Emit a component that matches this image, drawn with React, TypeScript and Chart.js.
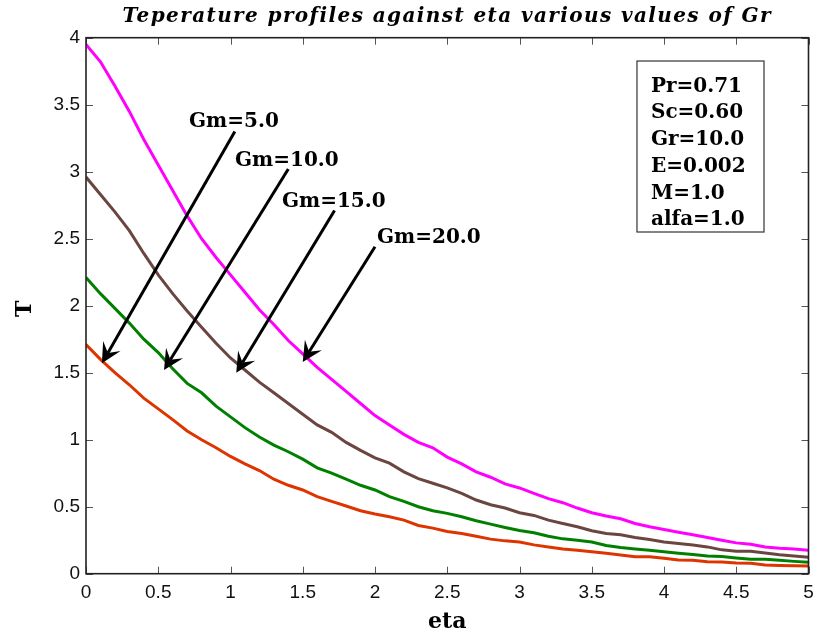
import React, { useEffect, useRef } from "react";
import { Chart, registerables } from "chart.js";

Chart.register(...registerables);

// ---- data ----
const eta = [
  0, 0.1, 0.2, 0.3, 0.4, 0.5, 0.6, 0.7, 0.8, 0.9, 1.0, 1.1, 1.2, 1.3, 1.4, 1.5, 1.6, 1.7, 1.8, 1.9, 2.0,
  2.1, 2.2, 2.3, 2.4, 2.5, 2.6, 2.7, 2.8, 2.9, 3.0, 3.1, 3.2, 3.3, 3.4, 3.5, 3.6, 3.7, 3.8, 3.9, 4.0,
  4.1, 4.2, 4.3, 4.4, 4.5, 4.6, 4.7, 4.8, 4.9, 5.0,
];

const tGm20 = [
  3.95, 3.82, 3.64, 3.45, 3.24, 3.05, 2.86, 2.67, 2.5, 2.36, 2.23, 2.1, 1.97, 1.86, 1.74, 1.64, 1.54, 1.45,
  1.36, 1.27, 1.18, 1.11, 1.04, 0.98, 0.94, 0.87, 0.82, 0.76, 0.72, 0.67, 0.64, 0.6, 0.56, 0.53, 0.49, 0.455,
  0.43, 0.41, 0.375, 0.35, 0.33, 0.31, 0.29, 0.27, 0.25, 0.23, 0.22, 0.2, 0.19, 0.185, 0.175,
];
const tGm15 = [
  2.96, 2.83, 2.7, 2.56, 2.39, 2.23, 2.09, 1.96, 1.84, 1.72, 1.61, 1.52, 1.43, 1.35, 1.27, 1.19, 1.11, 1.055,
  0.98, 0.92, 0.865, 0.825, 0.76, 0.71, 0.675, 0.64, 0.6, 0.55, 0.515, 0.49, 0.455, 0.435, 0.4, 0.375, 0.35,
  0.32, 0.3, 0.29, 0.27, 0.255, 0.237, 0.225, 0.215, 0.2, 0.178, 0.168, 0.167, 0.155, 0.142, 0.132, 0.122,
];
const tGm10 = [
  2.21, 2.09, 1.98, 1.87, 1.75, 1.65, 1.53, 1.42, 1.35, 1.25, 1.17, 1.09, 1.02, 0.96, 0.91, 0.855, 0.79, 0.75,
  0.705, 0.66, 0.625, 0.575, 0.54, 0.5, 0.47, 0.45, 0.425, 0.395, 0.37, 0.345, 0.322, 0.305, 0.28, 0.26, 0.25,
  0.237, 0.21, 0.195, 0.185, 0.175, 0.163, 0.153, 0.143, 0.132, 0.128, 0.118, 0.107, 0.107, 0.1, 0.092, 0.085,
];
const tGm5 = [
  1.71, 1.6, 1.5, 1.41, 1.31, 1.23, 1.15, 1.065, 1.0, 0.94, 0.875, 0.82, 0.77, 0.705, 0.66, 0.625, 0.575, 0.54,
  0.505, 0.47, 0.445, 0.425, 0.4, 0.36, 0.34, 0.315, 0.3, 0.28, 0.258, 0.245, 0.237, 0.215, 0.2, 0.185, 0.175,
  0.163, 0.152, 0.14, 0.127, 0.127, 0.115, 0.102, 0.1, 0.09, 0.088, 0.08, 0.078, 0.065, 0.062, 0.06, 0.057,
];

const seriesColors = ["#ff00ff", "#6b4540", "#008000", "#de3400"];
const seriesNames = ["Gm=20.0", "Gm=15.0", "Gm=10.0", "Gm=5.0"];

const xTicks = [0, 0.5, 1, 1.5, 2, 2.5, 3, 3.5, 4, 4.5, 5];
const yTicks = [0, 0.5, 1, 1.5, 2, 2.5, 3, 3.5, 4];

const titleText = "Teperature profiles against eta various values of Gr";
const xLabel = "eta";
const yLabel = "T";

// annotation labels (data coords: left x, baseline y)
const gmLabels = ["Gm=5.0", "Gm=10.0", "Gm=15.0", "Gm=20.0"];
const gmLabelX = [0.713, 1.031, 1.356, 2.014];
const gmLabelY = [3.331, 3.045, 2.734, 2.466];
// arrows (data coords)
const arrowFromX = [1.03, 1.4, 1.72, 2.0];
const arrowFromY = [3.3, 3.02, 2.71, 2.44];
const arrowToX = [0.11, 0.54, 1.04, 1.5];
const arrowToY = [1.57, 1.52, 1.5, 1.58];

// parameter box
const paramLines = ["Pr=0.71", "Sc=0.60", "Gr=10.0", "E=0.002", "M=1.0", "alfa=1.0"];
const boxX = [3.813, 4.692];
const boxY = [3.826, 2.55];
const paramTextX = 3.91;

const SERIF = "'DejaVu Serif', serif";
const SANS = "'Liberation Sans', Arial, sans-serif";

const overlay = {
  id: "overlay",
  afterDraw(chart: any) {
    const ctx = chart.ctx as CanvasRenderingContext2D;
    const ca = chart.chartArea;
    const xs = chart.scales.x;
    const ys = chart.scales.y;
    ctx.save();

    // inner tick marks
    ctx.strokeStyle = "#555";
    ctx.lineWidth = 1;
    const tl = 7;
    ctx.beginPath();
    for (const v of xTicks) {
      const px = Math.round(xs.getPixelForValue(v)) + 0.5;
      ctx.moveTo(px, ca.bottom);
      ctx.lineTo(px, ca.bottom - tl);
      ctx.moveTo(px, ca.top);
      ctx.lineTo(px, ca.top + tl);
    }
    for (const v of yTicks) {
      const py = Math.round(ys.getPixelForValue(v)) + 0.5;
      ctx.moveTo(ca.left, py);
      ctx.lineTo(ca.left + tl, py);
      ctx.moveTo(ca.right, py);
      ctx.lineTo(ca.right - tl, py);
    }
    ctx.stroke();

    // frame
    ctx.strokeStyle = "#222";
    ctx.lineWidth = 1.6;
    ctx.strokeRect(ca.left, ca.top, ca.right - ca.left, ca.bottom - ca.top);

    // title
    ctx.fillStyle = "#000";
    ctx.font = `italic bold 20px ${SERIF}`;
    (ctx as any).letterSpacing = "1.4px";
    ctx.textAlign = "center";
    ctx.textBaseline = "alphabetic";
    ctx.fillText(titleText, (ca.left + ca.right) / 2, 22);
    (ctx as any).letterSpacing = "0px";

    // axis labels
    ctx.font = `bold 22px ${SERIF}`;
    ctx.fillText(xLabel, (ca.left + ca.right) / 2, 628);
    ctx.save();
    ctx.translate(31, (ca.top + ca.bottom) / 2 + 3);
    ctx.rotate(-Math.PI / 2);
    ctx.fillText(yLabel, 0, 0);
    ctx.restore();

    // Gm labels
    ctx.font = `bold 20px ${SERIF}`;
    ctx.textAlign = "left";
    gmLabels.forEach((t, i) => {
      ctx.fillText(t, xs.getPixelForValue(gmLabelX[i]), ys.getPixelForValue(gmLabelY[i]));
    });

    // arrows
    ctx.strokeStyle = "#000";
    ctx.fillStyle = "#000";
    ctx.lineWidth = 3;
    const L = 20;
    const W = 10;
    for (let i = 0; i < arrowFromX.length; i++) {
      const x0 = xs.getPixelForValue(arrowFromX[i]);
      const y0 = ys.getPixelForValue(arrowFromY[i]);
      const x1 = xs.getPixelForValue(arrowToX[i]);
      const y1 = ys.getPixelForValue(arrowToY[i]);
      const dx = x1 - x0;
      const dy = y1 - y0;
      const len = Math.hypot(dx, dy);
      const ux = dx / len;
      const uy = dy / len;
      const nx = -uy;
      const ny = ux;
      const notchX = x1 - ux * L * 0.6;
      const notchY = y1 - uy * L * 0.6;
      ctx.beginPath();
      ctx.moveTo(x0, y0);
      ctx.lineTo(notchX, notchY);
      ctx.stroke();
      ctx.beginPath();
      ctx.moveTo(x1, y1);
      ctx.lineTo(x1 - ux * L + nx * W, y1 - uy * L + ny * W);
      ctx.lineTo(notchX, notchY);
      ctx.lineTo(x1 - ux * L - nx * W, y1 - uy * L - ny * W);
      ctx.closePath();
      ctx.fill();
    }

    // parameter box
    const bx0 = xs.getPixelForValue(boxX[0]);
    const bx1 = xs.getPixelForValue(boxX[1]);
    const by0 = ys.getPixelForValue(boxY[0]);
    const by1 = ys.getPixelForValue(boxY[1]);
    ctx.fillStyle = "#fff";
    ctx.fillRect(bx0, by0, bx1 - bx0, by1 - by0);
    ctx.strokeStyle = "#333";
    ctx.lineWidth = 1.2;
    ctx.strokeRect(bx0, by0, bx1 - bx0, by1 - by0);
    ctx.fillStyle = "#000";
    ctx.font = `bold 20px ${SERIF}`;
    const tx = xs.getPixelForValue(paramTextX);
    paramLines.forEach((t, i) => {
      ctx.fillText(t, tx, by0 + 30.7 + i * 26.7);
    });

    ctx.restore();
  },
};

export default function App() {
  const ref = useRef<HTMLCanvasElement | null>(null);
  useEffect(() => {
    document.body.style.margin = "0";
    const canvas = ref.current!;
    const chart = new Chart(canvas, {
      type: "line",
      data: {
        datasets: [tGm20, tGm15, tGm10, tGm5].map((arr, i) => ({
          label: seriesNames[i],
          data: arr.map((y, j) => ({ x: eta[j], y })),
          borderColor: seriesColors[i],
          backgroundColor: seriesColors[i],
          borderWidth: 3,
          pointRadius: 0,
          tension: 0,
          fill: false,
        })),
      },
      plugins: [overlay],
      options: {
        responsive: false,
        animation: false,
        events: [],
        layout: { padding: { left: 0, right: 8.5, top: 37.7, bottom: 0 } },
        plugins: { legend: { display: false }, title: { display: false }, tooltip: { enabled: false } },
        scales: {
          x: {
            type: "linear",
            min: 0,
            max: 5,
            afterBuildTicks: (s: any) => {
              s.ticks = xTicks.map((v) => ({ value: v }));
            },
            ticks: {
              color: "#111",
              font: { family: SANS, size: 19 },
              padding: 8,
              maxRotation: 0,
              autoSkip: false,
              callback: (v: any) => String(v),
            },
            grid: { display: false, drawTicks: false },
            border: { display: false },
            afterFit: (s: any) => {
              s.height = 60.3;
              s.paddingLeft = 0;
              s.paddingRight = 0;
            },
          },
          y: {
            type: "linear",
            min: 0,
            max: 4,
            afterBuildTicks: (s: any) => {
              s.ticks = yTicks.map((v) => ({ value: v }));
            },
            ticks: {
              color: "#111",
              font: { family: SANS, size: 19 },
              padding: 6,
              autoSkip: false,
              callback: (v: any) => String(v),
            },
            grid: { display: false, drawTicks: false },
            border: { display: false },
            afterFit: (s: any) => {
              s.width = 86;
              s.paddingTop = 0;
              s.paddingBottom = 0;
            },
          },
        },
      },
    } as any);
    return () => chart.destroy();
  }, []);
  return (
    <div style={{ position: "absolute", left: 0, top: 0, width: 817, height: 634, background: "#fff" }}>
      <canvas ref={ref} width={817} height={634} style={{ display: "block" }} />
    </div>
  );
}
